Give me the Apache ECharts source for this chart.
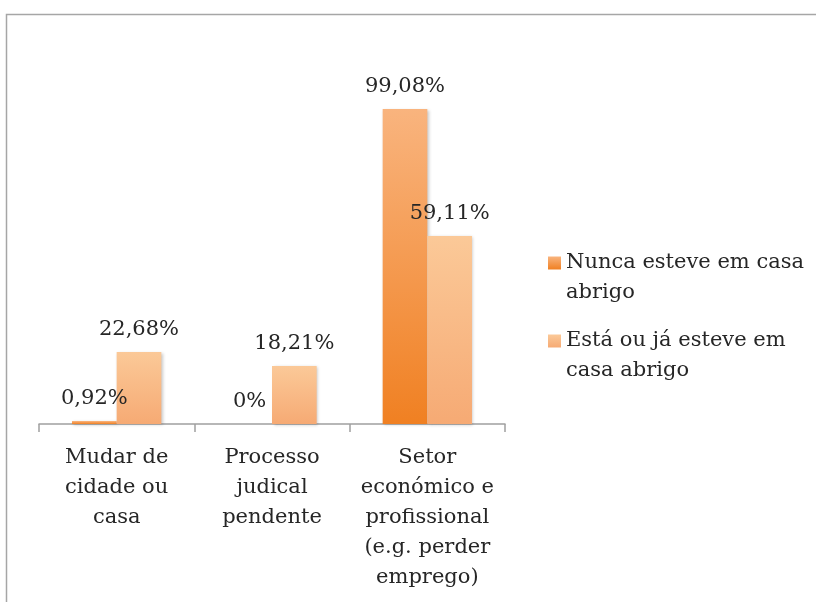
<!DOCTYPE html>
<html>
<head>
<meta charset="utf-8">
<script src="https://cdn.jsdelivr.net/npm/echarts@6/dist/echarts.min.js"></script>
<style>html,body{margin:0;padding:0;background:#fff}#c{width:816px;height:602px}</style>
</head>
<body>
<div id="c"></div>
<script>
const categories = ['Mudar de\ncidade ou\ncasa', 'Processo\njudical\npendente', 'Setor\neconómico e\nprofissional\n(e.g. perder\nemprego)'];
const seriesNames = ['Nunca esteve em casa\nabrigo', 'Está ou já esteve em\ncasa abrigo'];
const nunca = [0.92, 0, 99.08];
const esta = [22.68, 18.21, 59.11];

const FONT = 'DejaVu Serif';
const TXT = '#262626';
const chart = echarts.init(document.getElementById('c'), null, {renderer: 'canvas'});

function grad(top, bottom) {
  return new echarts.graphic.LinearGradient(0, 0, 0, 1, [
    {offset: 0, color: top}, {offset: 1, color: bottom}
  ]);
}
const fmt = p => (String(p.value).replace('.', ',')) + '%';
const labelCfg = {
  show: true, position: 'top', distance: 12, formatter: fmt,
  fontFamily: FONT, fontSize: 21, color: TXT
};
const shadow = {shadowColor: 'rgba(0,0,0,0.22)', shadowBlur: 3, shadowOffsetX: 1.5, shadowOffsetY: 1};

chart.setOption({
  animation: false,
  backgroundColor: '#fff',
  graphic: [{
    type: 'rect', silent: true, z: -1,
    shape: {x: 6.5, y: 14.5, width: 830, height: 620},
    style: {fill: 'none', stroke: '#A6A6A6', lineWidth: 1.5}
  }],
  grid: {left: 39, right: 311, top: 106, bottom: 178},
  legend: {
    orient: 'vertical', left: 548, top: 218, padding: 0, itemGap: -12,
    itemWidth: 13, itemHeight: 13, icon: 'rect',
    formatter: name => '\n' + name,
    textStyle: {fontFamily: FONT, fontSize: 21, color: TXT, lineHeight: 30},
    data: seriesNames
  },
  xAxis: {
    type: 'category', data: categories,
    axisLine: {lineStyle: {color: '#A0A0A0', width: 1.5}},
    axisTick: {show: true, length: 8, lineStyle: {color: '#A0A0A0', width: 1.5}},
    axisLabel: {interval: 0, margin: 19, fontFamily: FONT, fontSize: 21, color: TXT, lineHeight: 30}
  },
  yAxis: {type: 'value', min: 0, max: 100, show: false, splitLine: {show: false}},
  series: [{
    name: seriesNames[0], type: 'bar', data: nunca,
    barGap: '0%', barCategoryGap: '42.5%',
    itemStyle: Object.assign({color: grad('#F9B47E', '#F08022')}, shadow),
    label: labelCfg
  }, {
    name: seriesNames[1], type: 'bar', data: esta,
    barGap: '0%', barCategoryGap: '42.5%',
    itemStyle: Object.assign({color: grad('#FBC998', '#F6AA74')}, shadow),
    label: labelCfg
  }]
});
</script>
</body>
</html>
